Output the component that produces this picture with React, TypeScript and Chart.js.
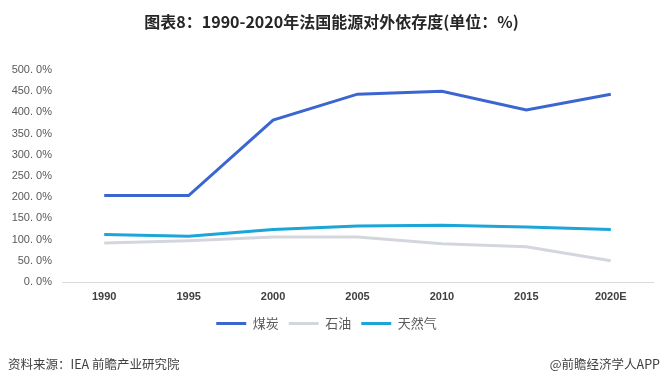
import React, { useEffect, useRef } from "react";
import { Chart, registerables } from "chart.js";

Chart.register(...registerables);

const categories = ["1990", "1995", "2000", "2005", "2010", "2015", "2020E"];
const coal = [204, 204, 382, 443, 450, 406, 443];
const oil = [92, 97, 106, 106, 90, 83, 50];
const gas = [112, 108, 124, 132, 134, 130, 124];
const seriesNames = ["煤炭", "石油", "天然气"];
const titleText = "图表8：1990-2020年法国能源对外依存度(单位：%)";
const sourceText = "资料来源：IEA 前瞻产业研究院";
const brandText = "@前瞻经济学人APP";

const W = 663;
const H = 386;

const textPlugin = {
  id: "textPlugin",
  afterDraw(chart: any) {
    const ctx = chart.ctx;
    ctx.save();
    ctx.fillStyle = "#262626";
    ctx.font = "bold 16px 'Noto Sans CJK SC'";
    ctx.textAlign = "center";
    ctx.textBaseline = "middle";
    ctx.fillText(titleText, W / 2, 22);
    ctx.font = "12.5px 'Noto Sans CJK SC'";
    ctx.fillStyle = "#404040";
    ctx.textAlign = "left";
    ctx.fillText(sourceText, 8, 364);
    ctx.textAlign = "right";
    ctx.fillText(brandText, 660, 364);
    ctx.restore();
  },
};

export default function App() {
  const ref = useRef<HTMLCanvasElement>(null);
  useEffect(() => {
    if (!ref.current) return;
    const chart = new Chart(ref.current, {
      type: "line",
      data: {
        labels: categories,
        datasets: [
          { label: seriesNames[0], data: coal, borderColor: "#3b65cf", backgroundColor: "#3b65cf", borderWidth: 3, pointRadius: 0, tension: 0 },
          { label: seriesNames[1], data: oil, borderColor: "#d3d7dd", backgroundColor: "#d3d7dd", borderWidth: 3, pointRadius: 0, tension: 0 },
          { label: seriesNames[2], data: gas, borderColor: "#1ba5d8", backgroundColor: "#1ba5d8", borderWidth: 3, pointRadius: 0, tension: 0 },
        ],
      },
      options: {
        responsive: false,
        animation: false,
        layout: { padding: { left: 0, right: 10, top: 70, bottom: 46 } },
        scales: {
          x: {
            offset: true,
            grid: { display: false, drawTicks: false },
            border: { display: true, color: "#d9d9d9", width: 1 },
            ticks: {
              padding: 8,
              color: "#404040",
              font: { family: "'Liberation Sans'", size: 11, weight: "bold" },
              maxRotation: 0,
            },
            afterFit(scale: any) { scale.height = 25; },
          },
          y: {
            min: 0,
            max: 500,
            grid: { display: false, drawTicks: false },
            border: { display: false },
            ticks: {
              stepSize: 50,
              padding: 10,
              color: "#595959",
              font: { family: "'Liberation Sans'", size: 11 },
              callback: (v: any) => Number(v).toFixed(1).replace(".", ". ") + "%",
            },
            afterFit(scale: any) { scale.width = 62; },
          },
        },
        plugins: {
          title: { display: false },
          tooltip: { enabled: false },
          legend: {
            display: true,
            position: "bottom",
            labels: {
              usePointStyle: true,
              pointStyle: "line",
              pointStyleWidth: 30,
              boxHeight: 13,
              padding: 10,
              color: "#595959",
              font: { family: "'Noto Sans CJK SC'", size: 13 },
            },
          },
        },
      },
      plugins: [textPlugin],
    } as any);
    return () => chart.destroy();
  }, []);
  return (
    <div style={{ position: "fixed", left: 0, top: 0, width: W, height: H, background: "#fff" }}>
      <canvas ref={ref} width={W} height={H} style={{ width: W, height: H, display: "block" }} />
    </div>
  );
}
